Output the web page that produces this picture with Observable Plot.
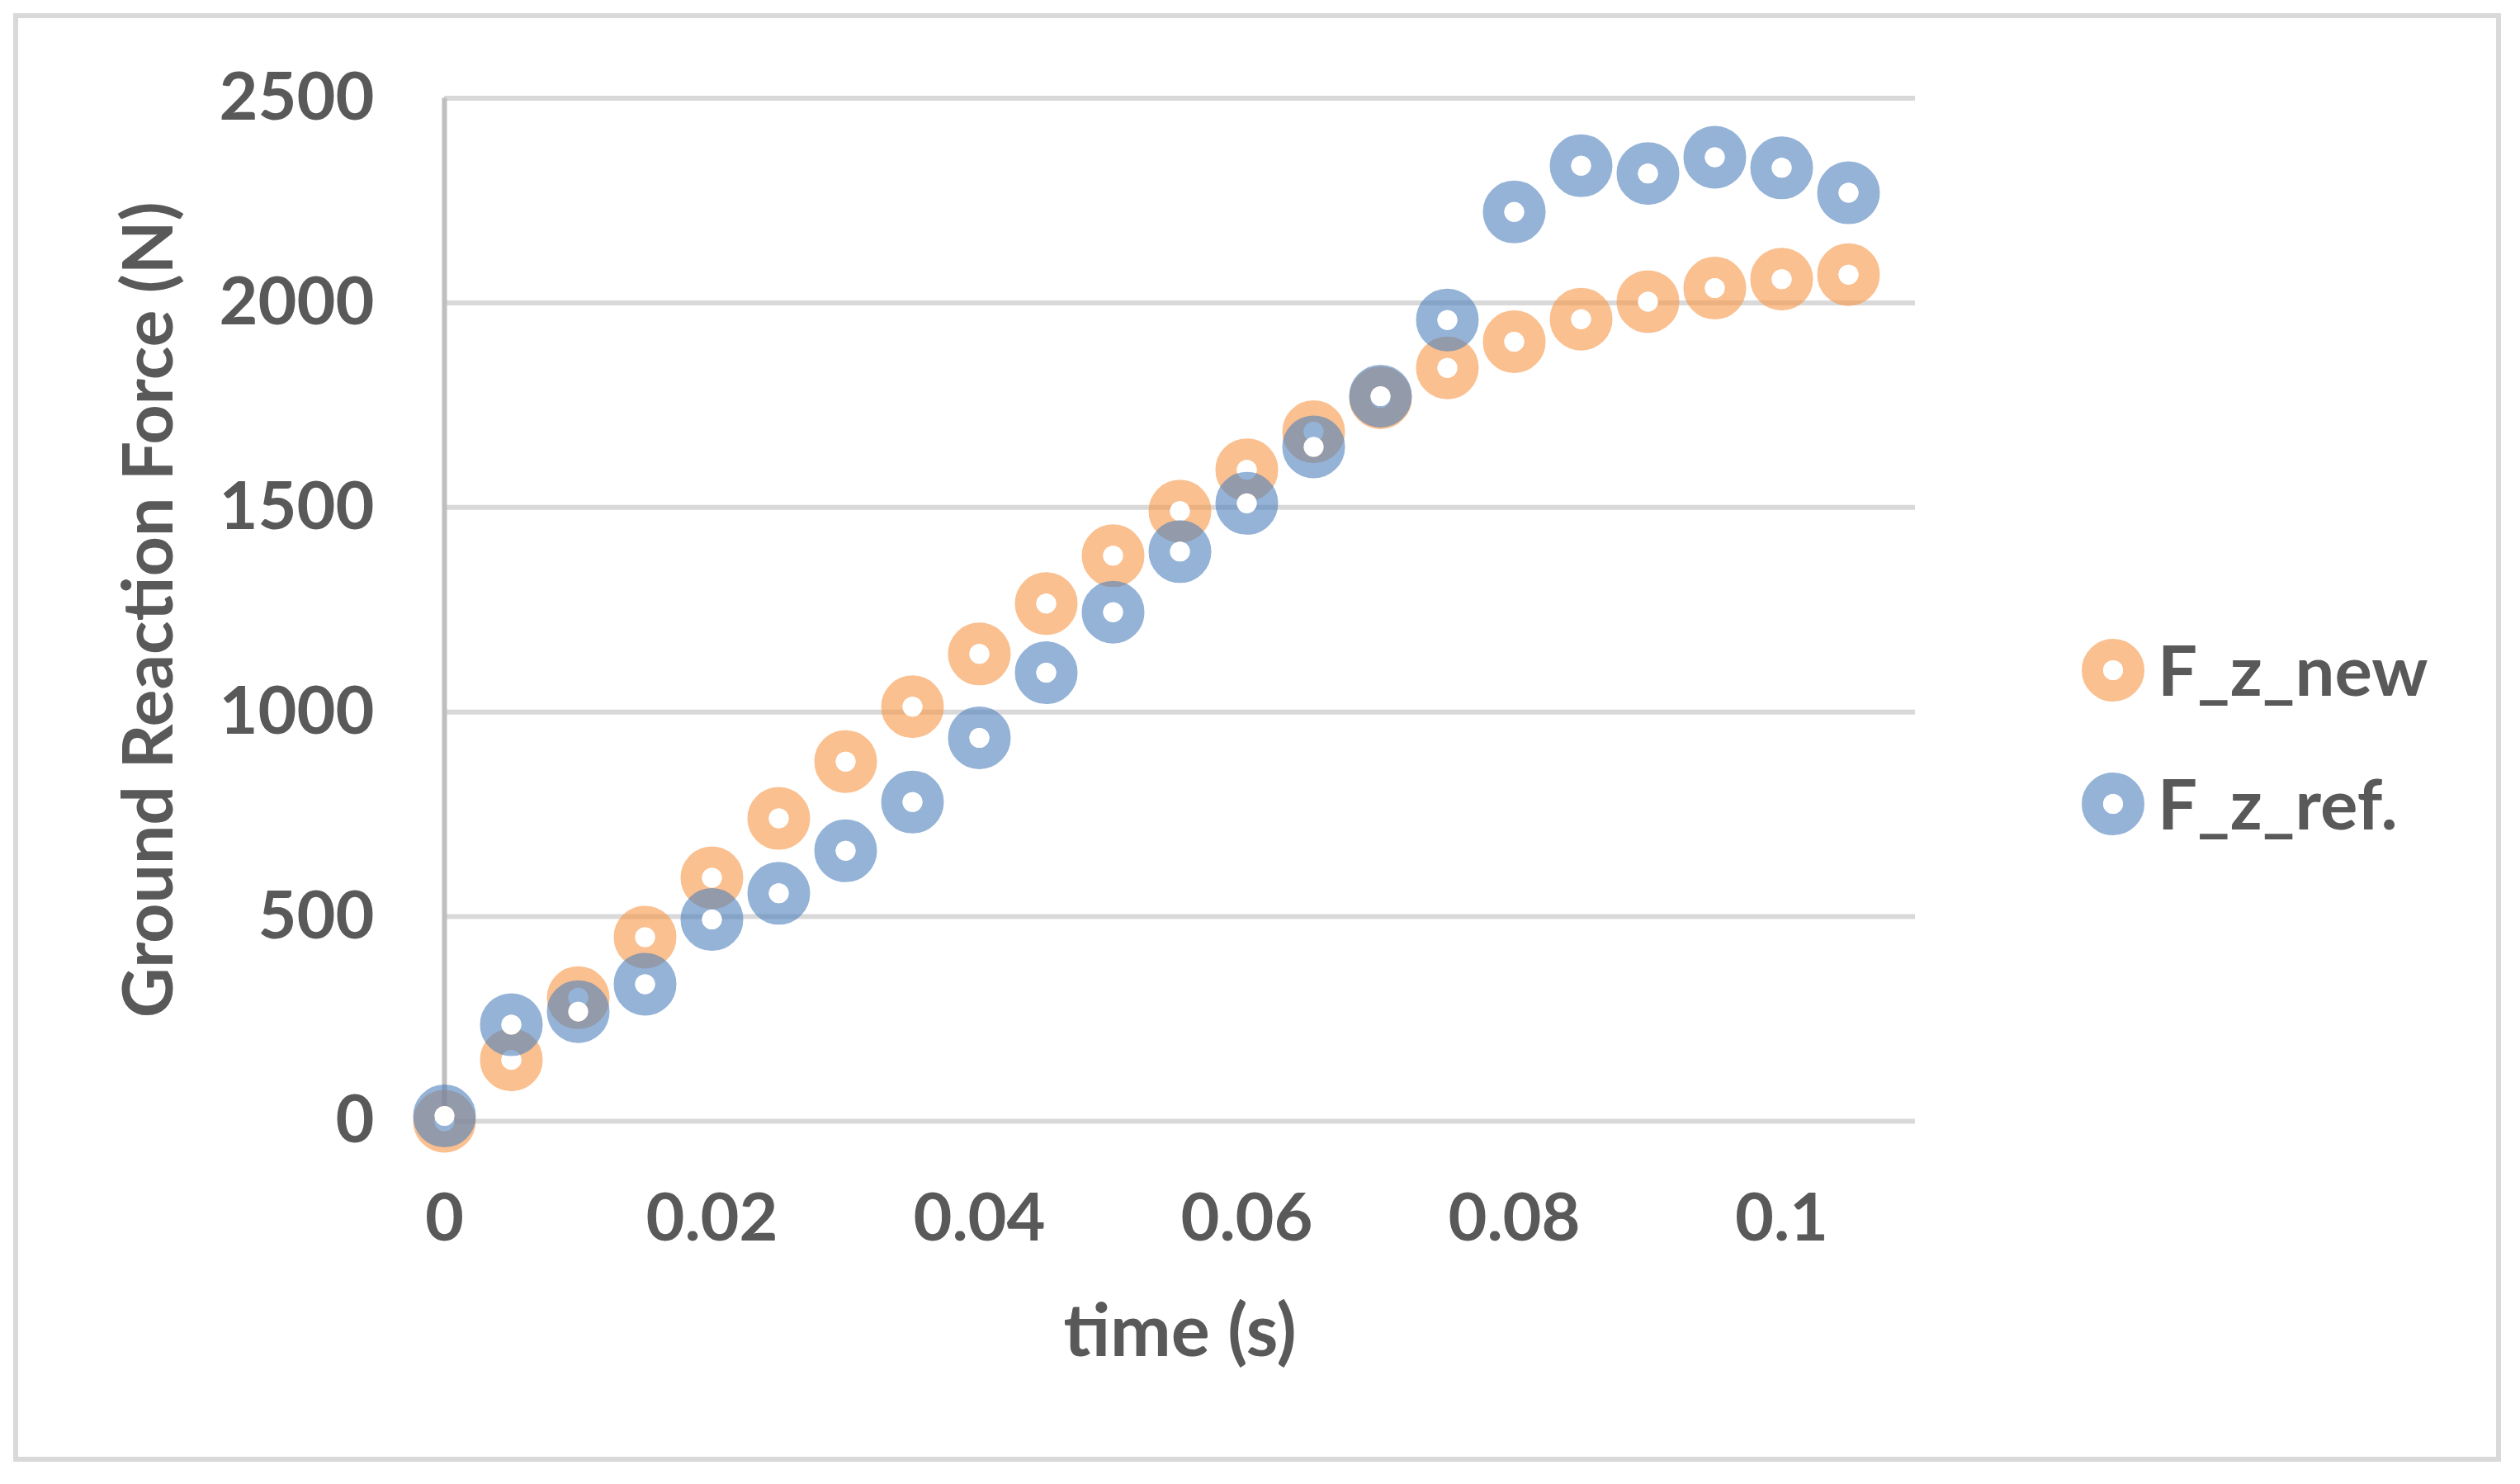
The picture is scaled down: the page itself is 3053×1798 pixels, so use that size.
<!DOCTYPE html>
<html>
<head>
<meta charset="utf-8">
<script src="https://cdn.jsdelivr.net/npm/d3@7"></script>
<script src="https://cdn.jsdelivr.net/npm/@observablehq/plot@0.6"></script>
<style>
  html, body { margin: 0; padding: 0; background: #ffffff; }
  #wrap { position: relative; width: 3053px; height: 1798px; overflow: hidden; background: #fff; }
  #border { position: absolute; left: 16px; top: 16px; width: 3002px; height: 1743px; border: 6px solid #D9D9D9; }
  #chart { position: absolute; left: 0; top: 0; }
  #legend { position: absolute; left: 2500px; top: 740px; }
</style>
</head>
<body>
<div id="wrap">
  <div id="border"></div>
  <div id="chart"></div>
  <div id="legend"></div>
</div>
<script>
// ---- data ----
const time = [0, 0.005, 0.01, 0.015, 0.02, 0.025, 0.03, 0.035, 0.04, 0.045, 0.05,
              0.055, 0.06, 0.065, 0.07, 0.075, 0.08, 0.085, 0.09, 0.095, 0.1, 0.105];
const fzNew = [0, 150, 302, 450, 595, 740, 879, 1013, 1142, 1265, 1382,
               1491, 1592, 1685, 1768, 1841, 1905, 1960, 2003, 2036, 2058, 2069];
const fzRef = [13, 236, 268, 335, 493, 557, 661, 780, 937, 1096, 1244,
               1392, 1510, 1648, 1772, 1958, 2222, 2335, 2316, 2356, 2330, 2269];
const seriesNames = ["F_z_new", "F_z_ref."];
const seriesColors = ["#F79646", "#4F81BD"];
const xTicks = [0, 0.02, 0.04, 0.06, 0.08, 0.1];
const xTickLabels = ["0", "0.02", "0.04", "0.06", "0.08", "0.1"];
const yTicks = [0, 500, 1000, 1500, 2000, 2500];
const yTickLabels = ["0", "500", "1000", "1500", "2000", "2500"];
const xTitle = "time (s)";
const yTitle = "Ground Reaction Force (N)";

const textColor = "#595959";
const font = "Lato, 'Open Sans', sans-serif";

const rows = seriesNames.map((name, s) =>
  time.map((t, i) => ({t, v: (s === 0 ? fzNew : fzRef)[i], name})));

const ringR = 25, ringW = 26, holeR = 12, ringOpacity = 0.6;

const seriesMarks = rows.flatMap((data, s) => [
  Plot.dot(data, {x: "t", y: "v", r: ringR, fill: "none", stroke: seriesColors[s],
                  strokeWidth: ringW, strokeOpacity: ringOpacity}),
  Plot.dot(data, {x: "t", y: "v", r: holeR, fill: "#ffffff", stroke: "none"})
]);

const chart = Plot.plot({
  width: 3053,
  height: 1798,
  marginLeft: 538,
  marginRight: 733,
  marginTop: 118.5,
  marginBottom: 440,
  x: {domain: [0, 0.11]},
  y: {domain: [0, 2500]},
  style: {fontFamily: font, fontSize: "81px", fontWeight: 700, color: textColor, background: "transparent"},
  marks: [
    Plot.gridY(yTicks, {stroke: "#D9D9D9", strokeWidth: 6, strokeOpacity: 1}),
    Plot.ruleX([0], {stroke: "#BFBFBF", strokeWidth: 6}),
    Plot.axisY(yTicks, {tickSize: 0, tickPadding: 85, label: null,
      tickFormat: d => yTickLabels[yTicks.indexOf(d)],
      fontSize: 81, fontWeight: 700, fill: textColor}),
    Plot.axisX(xTicks, {tickSize: 0, tickPadding: 87, label: null,
      tickFormat: d => xTickLabels[xTicks.indexOf(d)],
      fontSize: 81, fontWeight: 700, fill: textColor}),
    Plot.text([yTitle], {frameAnchor: "left", rotate: -90, dx: -356,
      textAnchor: "middle", lineAnchor: "middle",
      fontSize: 84, fontWeight: 700, fill: textColor}),
    Plot.text([xTitle], {frameAnchor: "bottom", dy: 256,
      textAnchor: "middle", lineAnchor: "middle",
      fontSize: 88, fontWeight: 700, fill: textColor}),
    ...seriesMarks
  ]
});
document.getElementById("chart").appendChild(chart);

// ---- legend ----
const lg = d3.select("#legend").append("svg")
  .attr("width", 520).attr("height", 300)
  .style("overflow", "visible");
seriesNames.forEach((name, s) => {
  const cy = 72 + s * 162;
  lg.append("circle").attr("cx", 60).attr("cy", cy).attr("r", ringR)
    .attr("fill", "none").attr("stroke", seriesColors[s])
    .attr("stroke-width", ringW).attr("stroke-opacity", ringOpacity);
  lg.append("circle").attr("cx", 60).attr("cy", cy).attr("r", holeR).attr("fill", "#fff");
  lg.append("text").attr("x", 114).attr("y", cy).attr("dy", "0.36em")
    .attr("font-family", font).attr("font-weight", 700).attr("font-size", 85)
    .attr("fill", textColor).text(name);
});
</script>
</body>
</html>
